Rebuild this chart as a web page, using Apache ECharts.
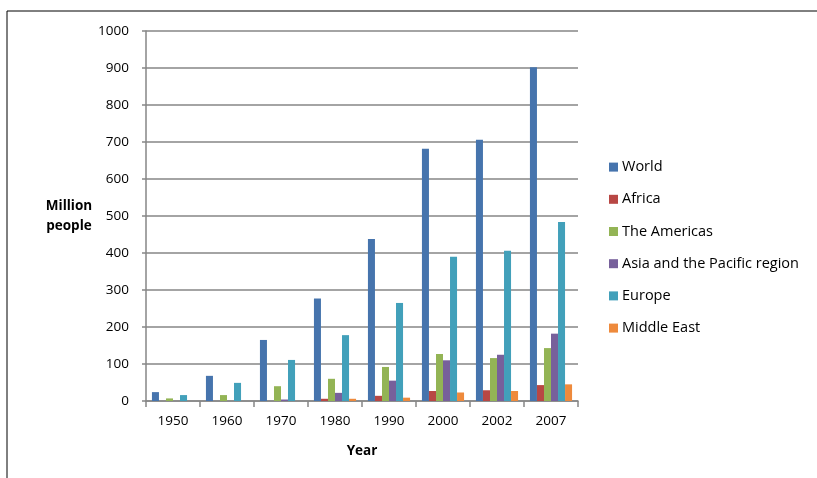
<!DOCTYPE html>
<html>
<head>
<meta charset="utf-8">
<script src="https://cdn.jsdelivr.net/npm/echarts@6/dist/echarts.min.js"></script>
<style>
html,body{margin:0;padding:0;background:#fff;}
#c{width:817px;height:478px;}
</style>
</head>
<body>
<div id="c"></div>
<script>
var categories = ['1950', '1960', '1970', '1980', '1990', '2000', '2002', '2007'];
var seriesNames = ['World', 'Africa', 'The Americas', 'Asia and the Pacific region', 'Europe', 'Middle East'];
var world    = [24, 68, 165, 277, 438, 682, 706, 902];
var africa   = [0, 0, 0, 6, 14, 27, 29, 43];
var americas = [7, 16, 40, 60, 92, 127, 116, 143];
var asia     = [0, 0, 4, 22, 55, 110, 125, 182];
var europe   = [16, 49, 111, 178, 265, 390, 406, 484];
var mideast  = [0, 0, 0, 6, 9, 23, 27, 45];
var yTicks = [0, 100, 200, 300, 400, 500, 600, 700, 800, 900, 1000];

var colors = ['#4674AD', '#B84744', '#93B455', '#77609B', '#42A0BA', '#EE8A3C'];
var values = [world, africa, americas, asia, europe, mideast];
var FONT = 'Open Sans';

var chart = echarts.init(document.getElementById('c'), null, {renderer: 'canvas'});
var series = seriesNames.map(function (n, i) {
  return {
    name: n, type: 'bar', data: values[i],
    barGap: '0%', barCategoryGap: '22%',
    itemStyle: {color: colors[i]}
  };
});
chart.setOption({
  animation: false,
  color: colors,
  textStyle: {fontFamily: FONT},
  grid: {left: 146, right: 239, top: 31, bottom: 77, containLabel: false},
  legend: {
    orient: 'vertical', left: 604, top: 154,
    itemWidth: 9, itemHeight: 9, itemGap: 16, icon: 'rect',
    textStyle: {fontFamily: FONT, fontSize: 14.5, color: '#000', lineHeight: 16.2, padding: [0, 0, 0, -1]},
    data: seriesNames
  },
  xAxis: {
    type: 'category', data: categories,
    name: 'Year', nameLocation: 'middle', nameGap: 43,
    nameTextStyle: {fontFamily: FONT, fontWeight: 'bold', fontSize: 13.5, color: '#000'},
    axisLine: {lineStyle: {color: '#868686', width: 1.5}},
    axisTick: {show: true, length: 6, lineStyle: {color: '#868686', width: 1.5}},
    axisLabel: {color: '#000', fontSize: 13.5, margin: 13, fontFamily: FONT},
    splitLine: {show: false}
  },
  yAxis: {
    type: 'value', min: 0, max: 1000, interval: 100,
    name: 'Million\npeople', nameLocation: 'middle', nameRotate: 0, nameGap: 60,
    nameTextStyle: {fontFamily: FONT, fontWeight: 'bold', fontSize: 13.5, color: '#000', lineHeight: 20, align: 'center', padding: [0, 0, 0, 0]},
    axisLine: {show: true, lineStyle: {color: '#868686', width: 1.5}},
    axisTick: {show: true, length: 4, lineStyle: {color: '#868686', width: 1.5}},
    axisLabel: {color: '#000', fontSize: 13.5, margin: 17, fontFamily: FONT,
      formatter: function (v) { return yTicks.indexOf(v) >= 0 ? String(v) : ''; }},
    splitLine: {show: true, lineStyle: {color: '#868686', width: 1.5}}
  },
  graphic: [
    {type: 'line', shape: {x1: 7, y1: 11, x2: 817, y2: 11}, style: {stroke: '#000', lineWidth: 1}},
    {type: 'line', shape: {x1: 7, y1: 11, x2: 7, y2: 478}, style: {stroke: '#000', lineWidth: 1}}
  ],
  series: series
});
</script>
</body>
</html>
